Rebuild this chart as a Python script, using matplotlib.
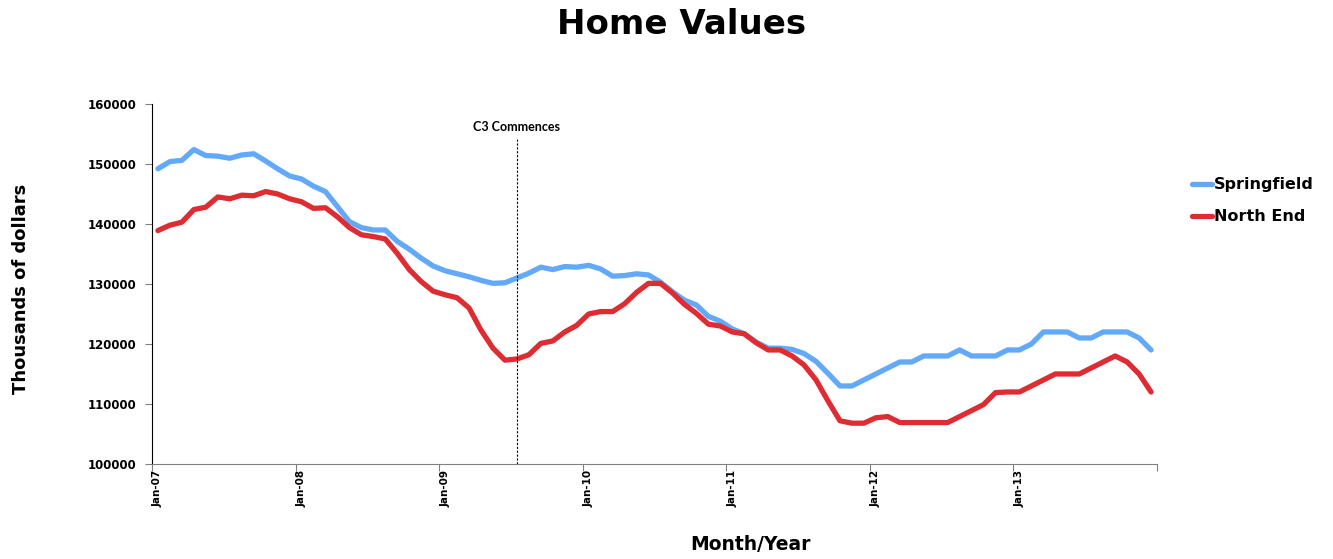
import matplotlib
matplotlib.use("Agg")
import matplotlib.pyplot as plt
import numpy as np

# monthly values, Jan-07 .. Dec-13
years = ["07", "08", "09", "10", "11", "12", "13"]
springfield = [
    149200, 150400, 150600, 152400, 151400, 151300, 150950, 151500, 151700, 150500, 149200, 148000,
    147500, 146300, 145400, 142900, 140400, 139400, 139000, 139000, 137100, 135800, 134300, 133000,
    132200, 131700, 131200, 130600, 130100, 130200, 131000, 131800, 132800, 132400, 132900, 132800,
    133100, 132500, 131300, 131400, 131700, 131500, 130300, 128700, 127300, 126500, 124600, 123800,
    122500, 121700, 120300, 119300, 119300, 119100, 118400, 117100, 115100, 113000, 113000, 114000,
    115000, 116000, 117000, 117000, 118000, 118000, 118000, 119000, 118000, 118000, 118000, 119000,
    119000, 120000, 122000, 122000, 122000, 121000, 121000, 122000, 122000, 122000, 121000, 119000,
]
north_end = [
    138900, 139800, 140300, 142400, 142800, 144500, 144200, 144800, 144700, 145400, 145000, 144200,
    143700, 142600, 142700, 141200, 139400, 138200, 137900, 137500, 135100, 132400, 130400, 128800,
    128200, 127700, 126000, 122300, 119300, 117300, 117500, 118200, 120100, 120500, 122000, 123100,
    125000, 125400, 125400, 126700, 128600, 130100, 130100, 128500, 126600, 125100, 123300, 123000,
    122000, 121700, 120200, 119000, 119000, 118000, 116500, 114000, 110500, 107200, 106800, 106800,
    107700, 107900, 106900, 106900, 106900, 106900, 106900, 107900, 108900, 109900, 111900, 112000,
    112000, 113000, 114000, 115000, 115000, 115000, 116000, 117000, 118000, 117000, 115000, 112000,
]
event_month = 30  # Jul-09
event_label = "C3 Commences"

plt.rcParams['font.family'] = ['DejaVu Sans']

fig = plt.figure(figsize=(13.33, 5.59), dpi=100)
ax = fig.add_axes([0.114, 0.170, 0.754, 0.644])

x = np.arange(len(springfield))
ax.plot(x, springfield, color="#63A9FA", lw=3.8, solid_capstyle="round", solid_joinstyle="round", label="Springfield")
ax.plot(x, north_end, color="#DE2C33", lw=3.8, solid_capstyle="round", solid_joinstyle="round", label="North End")

ax.set_xlim(-0.5, len(x) - 0.5)
ax.set_ylim(100000, 160000)
ax.set_yticks(np.arange(100000, 160001, 10000))
ax.set_yticklabels([str(v) for v in range(100000, 160001, 10000)], fontsize=8.5, fontweight="bold")

# ticks at year boundaries, labels on the january points
ax.set_xticks(np.arange(-0.5, len(x), 12))
ax.set_xticklabels([])
ax.set_xticks(np.arange(0, len(x), 12), minor=True)
ax.set_xticklabels(["Jan-" + y for y in years], minor=True, rotation=90, fontsize=7.5, fontweight="bold")
ax.tick_params(axis="x", which="minor", length=0, pad=4)
ax.tick_params(axis="x", which="major", length=5, color="#808080")
ax.tick_params(axis="y", length=5, color="#808080", pad=6)

for s in ["top", "right"]:
    ax.spines[s].set_visible(False)
ax.spines["bottom"].set_color("#808080")
ax.spines["left"].set_color("black")

ax.vlines(event_month, 100000, 154300, colors="black", linestyles=(0, (2, 1.5)), lw=0.8)
ax.text(event_month, 156200, event_label, ha="center", va="center", fontsize=9,
        fontweight="bold", family=["Lato", "DejaVu Sans"])

fig.text(0.511, 1 - 24 / 559, "Home Values", ha="center", va="center", fontsize=24.5, fontweight="bold")
fig.text(0.016, 0.483, "Thousands of dollars", rotation=90, ha="center", va="center", fontsize=13, fontweight="bold")
fig.text(0.563, 1 - 545 / 559, "Month/Year", ha="center", va="center", fontsize=13.5, fontweight="bold")

ax.legend(loc="center left", bbox_to_anchor=(1.02, 0.731), frameon=False,
          prop={"weight": "bold", "size": 11.5}, handlelength=1.3, handletextpad=0.1, labelspacing=1.05)

fig.savefig("out.png", dpi=100)
